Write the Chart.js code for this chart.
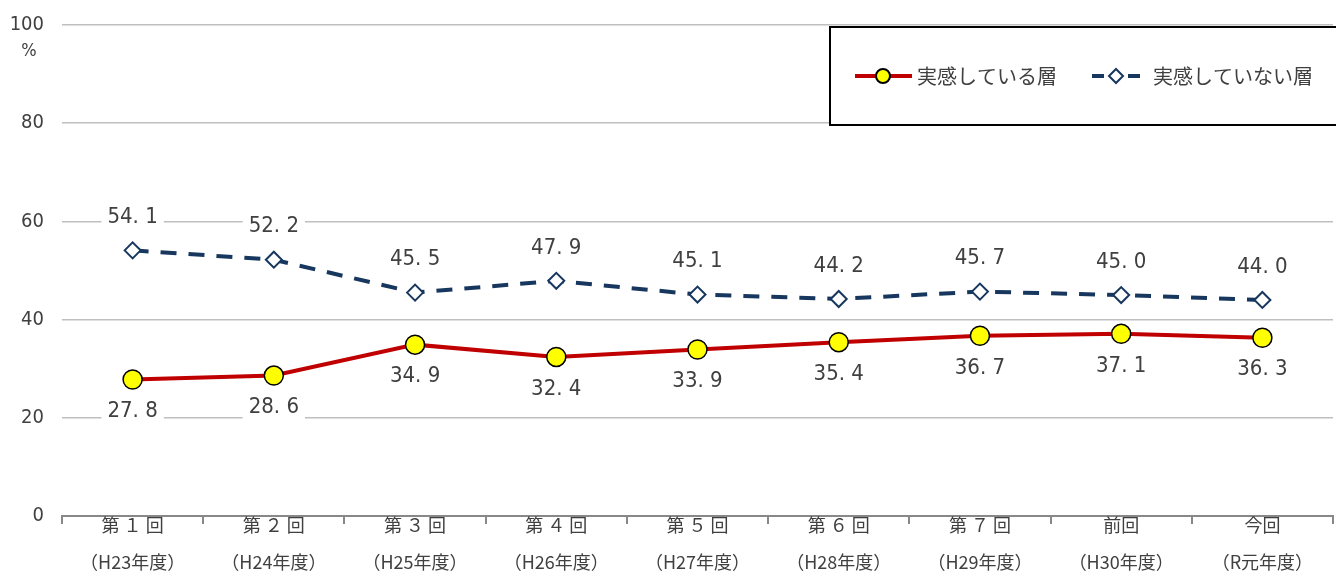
<!DOCTYPE html>
<html>
<head>
<meta charset="utf-8">
<script src="https://cdn.jsdelivr.net/npm/chart.js@4"></script>
<style>
  html, body { margin: 0; padding: 0; background: #fff; overflow: hidden; }
  #wrap { width: 1344px; height: 572px; }
</style>
</head>
<body>
<div id="wrap"><canvas id="myChart" width="1344" height="572"></canvas></div>
<script>
// data
const rounds = ['第 １ 回', '第 ２ 回', '第 ３ 回', '第 ４ 回', '第 ５ 回', '第 ６ 回', '第 ７ 回', '前回', '今回']
const years = ['（H23年度）', '（H24年度）', '（H25年度）', '（H26年度）', '（H27年度）', '（H28年度）', '（H29年度）', '（H30年度）', '（R元年度）']
const feel = [27.8, 28.6, 34.9, 32.4, 33.9, 35.4, 36.7, 37.1, 36.3]
const notFeel = [54.1, 52.2, 45.5, 47.9, 45.1, 44.2, 45.7, 45.0, 44.0]
const yTicks = [0, 20, 40, 60, 80, 100]
const seriesNames = ['実感している層', '実感していない層']

const JP = '"Noto Sans CJK JP", sans-serif'
const NUM = '"Liberation Sans Narrow", "DejaVu Sans Condensed", sans-serif'

const fmt = v => v.toFixed(1).replace('.', '. ')

// value labels with white box (above for notFeel, below for feel)
const valueLabels = {
    id: 'valueLabels',
    afterDatasetsDraw(chart) {
        const ctx = chart.ctx
        ctx.save()
        ctx.font = '22px ' + NUM
        ctx.textAlign = 'center'
        ctx.textBaseline = 'middle'
        chart.data.datasets.forEach((ds, i) => {
            const meta = chart.getDatasetMeta(i)
            meta.data.forEach((pt, j) => {
                const txt = fmt(ds.data[j])
                const y = i === 0 ? pt.y + 32 : pt.y - 33
                const w = ctx.measureText(txt).width + 12
                ctx.fillStyle = '#fff'
                ctx.fillRect(pt.x - w / 2, y - 12, w, 24)
                ctx.fillStyle = '#404040'
                ctx.fillText(txt, pt.x, y)
            })
        })
        ctx.restore()
    }
}

// "%" under the 100 tick, and the boxed legend
const extras = {
    id: 'extras',
    afterDraw(chart) {
        const ctx = chart.ctx
        const y = chart.scales.y
        ctx.save()
        ctx.fillStyle = '#404040'
        ctx.font = '18px ' + NUM
        ctx.textAlign = 'center'
        ctx.textBaseline = 'middle'
        ctx.fillText('%', 29, y.getPixelForValue(100) + 26)

        // legend box
        const bx = 830, by = 27, bw = 520, bh = 98
        ctx.fillStyle = '#fff'
        ctx.fillRect(bx, by, bw, bh)
        ctx.strokeStyle = '#000'
        ctx.lineWidth = 2
        ctx.strokeRect(bx, by, bw, bh)

        const ly = 76
        // series 1
        ctx.strokeStyle = '#C00000'
        ctx.lineWidth = 4
        ctx.beginPath(); ctx.moveTo(855, ly); ctx.lineTo(912, ly); ctx.stroke()
        ctx.beginPath(); ctx.arc(883, ly, 7, 0, Math.PI * 2)
        ctx.fillStyle = '#FFFF00'; ctx.fill()
        ctx.lineWidth = 2; ctx.strokeStyle = '#000'; ctx.stroke()
        ctx.fillStyle = '#404040'
        ctx.font = '20px ' + JP
        ctx.textAlign = 'left'
        ctx.fillText(seriesNames[0], 917, ly)
        // series 2
        ctx.strokeStyle = '#17375E'
        ctx.lineWidth = 4
        ctx.beginPath(); ctx.moveTo(1092, ly); ctx.lineTo(1104, ly); ctx.stroke()
        ctx.beginPath(); ctx.moveTo(1128, ly); ctx.lineTo(1140, ly); ctx.stroke()
        ctx.beginPath()
        ctx.moveTo(1116, ly - 7); ctx.lineTo(1123, ly); ctx.lineTo(1116, ly + 7); ctx.lineTo(1109, ly); ctx.closePath()
        ctx.fillStyle = '#fff'; ctx.fill()
        ctx.lineWidth = 2; ctx.stroke()
        ctx.fillStyle = '#404040'
        ctx.fillText(seriesNames[1], 1153, ly)
        ctx.restore()
    }
}

new Chart(document.getElementById('myChart').getContext('2d'), {
    type: 'line',
    data: {
        labels: rounds.map((r, i) => [r, years[i]]),
        datasets: [
            {
                label: seriesNames[0],
                data: feel,
                borderColor: '#C00000',
                borderWidth: 4,
                pointStyle: 'circle',
                pointRadius: 9.5,
                pointBackgroundColor: '#FFFF00',
                pointBorderColor: '#000',
                pointBorderWidth: 1.5,
                tension: 0
            },
            {
                label: seriesNames[1],
                data: notFeel,
                borderColor: '#17375E',
                borderWidth: 4,
                borderDash: [16, 12],
                pointStyle: 'rectRot',
                pointRadius: 8,
                pointBackgroundColor: '#fff',
                pointBorderColor: '#17375E',
                pointBorderWidth: 2,
                tension: 0
            }
        ]
    },
    options: {
        responsive: false,
        animation: false,
        layout: { padding: { top: 25, left: 0, right: 0, bottom: 0 } },
        plugins: { legend: { display: false }, tooltip: { enabled: false } },
        scales: {
            x: {
                offset: true,
                afterFit: s => { s.height = 56 },
                grid: { offset: true, drawOnChartArea: false, drawTicks: true, tickLength: 8, color: '#888', lineWidth: 2 },
                border: { color: '#888', width: 2 },
                ticks: {
                    color: '#404040',
                    font: { family: JP, size: 18, lineHeight: 2.05 },
                    padding: -17,
                    maxRotation: 0,
                    autoSkip: false
                }
            },
            y: {
                min: 0,
                max: 100,
                afterFit: s => { s.width = 62 },
                afterBuildTicks: s => { s.ticks = yTicks.map(v => ({ value: v })) },
                grid: { color: '#BFBFBF', lineWidth: 1.5, drawTicks: false },
                border: { display: false },
                ticks: {
                    color: '#404040',
                    font: { family: NUM, size: 20, lineHeight: 0.5 },
                    padding: 18
                }
            }
        }
    },
    plugins: [valueLabels, extras]
})
</script>
</body>
</html>
